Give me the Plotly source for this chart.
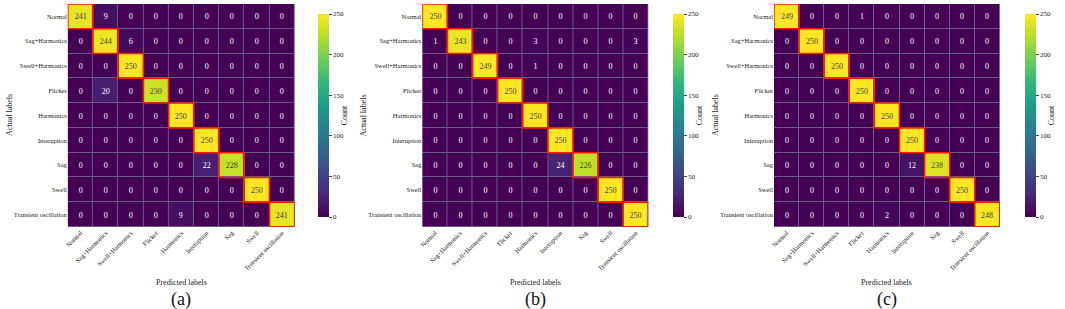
import plotly.graph_objects as go

labels = ["Normal", "Sag+Harmonics", "Swell+Harmonics", "Flicker", "Harmonics",
          "Interuption", "Sag", "Swell", "Transient oscillation"]

cm_a = [
    [241, 9, 0, 0, 0, 0, 0, 0, 0],
    [0, 244, 6, 0, 0, 0, 0, 0, 0],
    [0, 0, 250, 0, 0, 0, 0, 0, 0],
    [0, 20, 0, 230, 0, 0, 0, 0, 0],
    [0, 0, 0, 0, 250, 0, 0, 0, 0],
    [0, 0, 0, 0, 0, 250, 0, 0, 0],
    [0, 0, 0, 0, 0, 22, 228, 0, 0],
    [0, 0, 0, 0, 0, 0, 0, 250, 0],
    [0, 0, 0, 0, 9, 0, 0, 0, 241],
]
cm_b = [
    [250, 0, 0, 0, 0, 0, 0, 0, 0],
    [1, 243, 0, 0, 3, 0, 0, 0, 3],
    [0, 0, 249, 0, 1, 0, 0, 0, 0],
    [0, 0, 0, 250, 0, 0, 0, 0, 0],
    [0, 0, 0, 0, 250, 0, 0, 0, 0],
    [0, 0, 0, 0, 0, 250, 0, 0, 0],
    [0, 0, 0, 0, 0, 24, 226, 0, 0],
    [0, 0, 0, 0, 0, 0, 0, 250, 0],
    [0, 0, 0, 0, 0, 0, 0, 0, 250],
]
cm_c = [
    [249, 0, 0, 1, 0, 0, 0, 0, 0],
    [0, 250, 0, 0, 0, 0, 0, 0, 0],
    [0, 0, 250, 0, 0, 0, 0, 0, 0],
    [0, 0, 0, 250, 0, 0, 0, 0, 0],
    [0, 0, 0, 0, 250, 0, 0, 0, 0],
    [0, 0, 0, 0, 0, 250, 0, 0, 0],
    [0, 0, 0, 0, 0, 12, 238, 0, 0],
    [0, 0, 0, 0, 0, 0, 0, 250, 0],
    [0, 0, 0, 0, 2, 0, 0, 0, 248],
]
panel_tags = ["(a)", "(b)", "(c)"]
cb_ticks = [0, 50, 100, 150, 200, 250]

W, H = 1065, 309
FONT = "Liberation Serif"

# pixel layout per panel: heatmap left, right, colorbar left
panels_px = [(66, 297, 311), (427, 657, 672), (785, 1015, 1030)]
top_px, bot_px = 4, 227

fig = go.Figure()
for k, (cm, tag, (xl, xr, cbx)) in enumerate(zip([cm_a, cm_b, cm_c], panel_tags, panels_px)):
    xa = "x" if k == 0 else f"x{k+1}"
    ya = "y" if k == 0 else f"y{k+1}"
    fig.add_trace(go.Heatmap(
        z=cm, x=list(range(len(labels))), y=list(range(len(labels))),
        colorscale="Viridis", zmin=0, zmax=250,
        xgap=1, ygap=1,
        texttemplate="%{z}", textfont=dict(family=FONT, size=8),
        xaxis=xa, yaxis=ya,
        colorbar=dict(
            x=cbx / W, xanchor="left", xref="paper",
            y=1 - (top_px + bot_px) / 2 / H, yanchor="middle",
            len=(bot_px - top_px) / H, lenmode="fraction",
            thickness=11, outlinewidth=0,
            tickvals=cb_ticks, ticks="outside", ticklen=3, tickwidth=0.8,
            tickfont=dict(family=FONT, size=7, color="#222"),
            title=dict(text="Count", side="right", font=dict(family=FONT, size=8, color="#222")),
        ),
    ))
    dom_x = [xl / W, xr / W]
    dom_y = [1 - bot_px / H, 1 - top_px / H]
    xkey = "xaxis" if k == 0 else f"xaxis{k+1}"
    ykey = "yaxis" if k == 0 else f"yaxis{k+1}"
    fig.layout[xkey] = dict(
        domain=dom_x, anchor=ya, tickmode="array",
        tickvals=list(range(len(labels))), ticktext=labels, tickangle=-45,
        tickfont=dict(family=FONT, size=6.5, color="#222"),
        showgrid=False, zeroline=False, ticks="", range=[-0.5, len(labels) - 0.5],
    )
    fig.layout[ykey] = dict(
        domain=dom_y, anchor=xa, tickmode="array",
        tickvals=list(range(len(labels))), ticktext=labels,
        tickfont=dict(family=FONT, size=6.5, color="#222"),
        showgrid=False, zeroline=False, ticks="", range=[len(labels) - 0.5, -0.5],
    )
    # diagonal highlight boxes
    for i in range(len(labels)):
        fig.add_shape(type="rect", xref=xa, yref=ya,
                      x0=i - 0.5, x1=i + 0.5, y0=i - 0.5, y1=i + 0.5,
                      line=dict(color="#ff1a00", width=1.5))
    # axis titles and panel tag
    cx = (xl + xr) / 2 / W
    fig.add_annotation(text="Predicted labels", xref="paper", yref="paper",
                       x=cx, y=1 - 282 / H, xanchor="center", yanchor="middle", showarrow=False,
                       font=dict(family=FONT, size=8, color="#222"))
    fig.add_annotation(text=tag, xref="paper", yref="paper",
                       x=cx, y=1 - 299 / H, xanchor="center", yanchor="middle", showarrow=False,
                       font=dict(family=FONT, size=18, color="#111"))
    fig.add_annotation(text="Actual labels", xref="paper", yref="paper",
                       x=(xl - 60) / W, y=1 - 115 / H, xanchor="center", yanchor="middle",
                       textangle=-90, showarrow=False,
                       font=dict(family=FONT, size=8, color="#222"))

fig.update_layout(
    width=W, height=H, margin=dict(l=0, r=0, t=0, b=0),
    paper_bgcolor="white", plot_bgcolor="#6c5a88",
    showlegend=False,
)
fig.write_html("out.html", config={"displayModeBar": False},
               post_script="document.body.style.margin='0';document.body.style.overflow='hidden';")
